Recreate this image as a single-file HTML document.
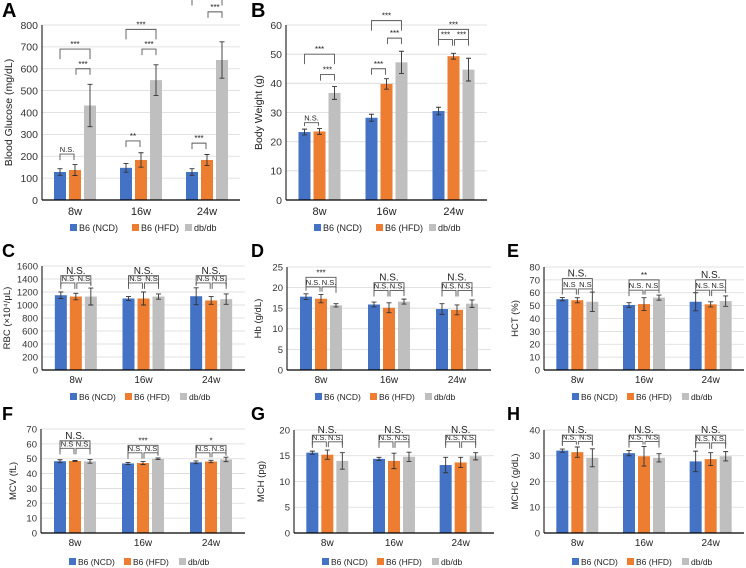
<!DOCTYPE html>
<html><head><meta charset="utf-8"><style>
body{margin:0;background:#fff;}
svg{display:block;font-family:"Liberation Sans",Arial,sans-serif;}
</style></head><body>
<svg id="fig" width="746" height="568" viewBox="0 0 746 568" xmlns="http://www.w3.org/2000/svg"></svg>
<script>
const categories=["8w","16w","24w"];
const seriesNames=["B6 (NCD)","B6 (HFD)","db/db"];
const colors=["#4472c4","#ed7d31","#bfbfbf"];

const aNCD=[128,147,128], aNCDerr=[15,20,15];
const aHFD=[137,183,183], aHFDerr=[25,33,25];
const aDB=[432,548,640], aDBerr=[97,70,83];
const bNCD=[23.3,28.2,30.5], bNCDerr=[1,1.2,1.3];
const bHFD=[23.5,39.8,49.3], bHFDerr=[1,1.8,1];
const bDB=[36.7,47.2,44.7], bDBerr=[2.2,3.8,3.9];
const cNCD=[1150,1100,1135], cNCDerr=[50,30,130];
const cHFD=[1130,1100,1070], cHFDerr=[50,100,60];
const cDB=[1130,1130,1090], cDBerr=[130,40,80];
const dNCD=[17.8,15.9,14.8], dNCDerr=[0.7,0.6,1.3];
const dHFD=[17.3,15.1,14.6], dHFDerr=[1,1.2,1.2];
const dDB=[15.7,16.6,16.1], dDBerr=[0.4,0.6,0.9];
const eNCD=[55,50.5,53], eNCDerr=[1.3,1.8,7];
const eHFD=[54.2,51.2,51], eHFDerr=[2,5,2];
const eDB=[53,56.2,53.5], eDBerr=[7.5,2,4];
const fNCD=[48.3,46.8,47.6], fNCDerr=[1,0.7,0.9];
const fHFD=[48.5,47.1,48.1], fHFDerr=[0.3,1,0.8];
const fDB=[48.2,50,49.5], fDBerr=[1.2,0.5,1.5];
const gNCD=[15.6,14.4,13.2], gNCDerr=[0.3,0.3,1.5];
const gHFD=[15.2,14,13.7], gHFDerr=[0.9,1.5,1];
const gDB=[14,14.8,14.9], gDBerr=[1.6,0.9,0.7];
const hNCD=[32,31,27.8], hNCDerr=[0.6,1,4];
const hHFD=[31.4,29.8,28.7], hHFDerr=[2,3.8,2.5];
const hDB=[29.2,29.2,29.8], hDBerr=[3.5,1.6,1.8];

// significance brackets: [category, fromSeries, toSeries, yValue, label]
const aSig=[[0,0,1,210,"N.S."],[0,1,2,600,"***"],[0,0,2,690,"***"],[1,0,1,270,"**"],[1,1,2,690,"***"],[1,0,2,780,"***"],[2,0,1,260,"***"],[2,1,2,860,"***"],[2,0,2,935,"***"]];
const bSig=[[0,0,1,26.5,"N.S."],[0,1,2,43,"***"],[0,0,2,50,"***"],[1,0,1,45,"***"],[1,1,2,55.5,"***"],[1,0,2,61.5,"***"],[2,0,1,55,"***"],[2,1,2,55,"***"],[2,0,2,58.5,"***"]];
const cSig=[[0,0,1,1340,"N.S"],[0,1,2,1340,"N.S"],[0,0,2,1450,"N.S."],[1,0,1,1340,"N.S"],[1,1,2,1340,"N.S"],[1,0,2,1450,"N.S."],[2,0,1,1340,"N.S"],[2,1,2,1340,"N.S."],[2,0,2,1450,"N.S."]];
const dSig=[[0,0,1,20.2,"N.S."],[0,1,2,20.2,"N.S."],[0,0,2,22.5,"***"],[1,0,1,19.3,"N.S."],[1,1,2,19.3,"N.S."],[1,0,2,21.2,"N.S."],[2,0,1,19.3,"N.S."],[2,1,2,19.3,"N.S."],[2,0,2,21.2,"N.S."]];
const eSig=[[0,0,1,63,"N.S"],[0,1,2,63,"N.S"],[0,0,2,71,"N.S."],[1,0,1,62,"N.S."],[1,1,2,62,"N.S"],[1,0,2,70,"**"],[2,0,1,62,"N.S."],[2,1,2,62,"N.S."],[2,0,2,70,"N.S."]];
const fSig=[[0,0,1,57,"N.S"],[0,1,2,57,"N.S."],[0,0,2,62,"N.S."],[1,0,1,54,"N.S."],[1,1,2,54,"N.S"],[1,0,2,59,"***"],[2,0,1,54,"N.S."],[2,1,2,54,"N.S."],[2,0,2,59,"*"]];
const gSig=[[0,0,1,17.7,"N.S."],[0,1,2,17.7,"N.S."],[0,0,2,19,"N.S."],[1,0,1,17.7,"N.S."],[1,1,2,17.7,"N.S."],[1,0,2,19,"N.S."],[2,0,1,17.7,"N.S."],[2,1,2,17.7,"N.S."],[2,0,2,19,"N.S."]];
const hSig=[[0,0,1,35.5,"N.S."],[0,1,2,35.5,"N.S"],[0,0,2,38,"N.S."],[1,0,1,35.5,"N.S."],[1,1,2,35.5,"N.S"],[1,0,2,38,"N.S."],[2,0,1,35,"N.S."],[2,1,2,35,"N.S."],[2,0,2,38,"N.S."]];

const svg=document.getElementById('fig');
const NS="http://www.w3.org/2000/svg";
function mk(tag,attrs,parent,text){const e=document.createElementNS(NS,tag);for(const k in attrs)e.setAttribute(k,attrs[k]);if(text!==undefined)e.textContent=text;(parent||svg).appendChild(e);return e;}

function panel(p){
  const g=mk('g',{});
  
  
  const big=p.big;
  const fs=big?10.5:9.5;
  const yS=v=>p.yb-(v/p.max)*(p.yb-p.yt);
  const gw=(p.x1-p.x0)/3;
  const xc=i=>p.x0+gw*(i+0.5);
  const off=[-15,0,15], bw=12;
  const L=mk('text',{x:p.lx,y:p.ly,'font-size':big?20:18,'font-weight':'bold',fill:'#000'},g,p.id);
  
  
  for(let v=0;v<=p.max+1e-9;v+=p.step){
    const y=yS(v);
    if(v>0){const gl=mk('line',{x1:p.x0,x2:p.x1,y1:y,y2:y,stroke:'#d9d9d9','stroke-width':0.8},g);
      }
    const t=mk('text',{x:p.x0-4,y:y+fs*0.36,'font-size':fs,'text-anchor':'end',fill:'#333'},g,String(Math.round(v*100)/100));
    
  }
  const ya=mk('line',{x1:p.x0,x2:p.x0,y1:p.yt,y2:p.yb,stroke:'#000','stroke-width':1},g);
  
  const yc=(p.yt+p.yb)/2;
  const yt=mk('text',{x:p.tx,y:yc,'font-size':fs,'text-anchor':'middle',fill:'#222',transform:`rotate(-90 ${p.tx} ${yc})`},g,p.title);
  
  const series=[p.s[0],p.s[2],p.s[4]], errs=[p.s[1],p.s[3],p.s[5]];
  for(let i=0;i<3;i++){
    for(let s=0;s<3;s++){
      const x=xc(i)+off[s]-bw/2, y=yS(series[s][i]);
      const r=mk('rect',{x:x,y:y,width:bw,height:p.yb-y,fill:colors[s]},g);
      
      
      const cx=xc(i)+off[s], e1=yS(series[s][i]+errs[s][i]), e2=yS(series[s][i]-errs[s][i]);
      const eb=mk('path',{d:`M${cx},${e1}V${e2}M${cx-2.5},${e1}H${cx+2.5}M${cx-2.5},${e2}H${cx+2.5}`,stroke:'#333','stroke-width':0.9,fill:'none'},g);
      
    }
    const cl=mk('text',{x:xc(i),y:p.yb+(big?15:13),'font-size':fs+0.5,'text-anchor':'middle',fill:'#222'},g,categories[i]);
    
  }
  p.sig.forEach(b=>{
    const [i,a,c,v,lab]=b;
    const xa=xc(i)+off[a]+(a===1&&c===2?1:0), xb=xc(i)+off[c]-(a===0&&c===1?1:0);
    const y=yS(v);
    const ya_=Math.min(yS(series[a][i]+errs[a][i])-3,y+ (c-a===2?10:6));
    const yb_=Math.min(yS(series[c][i]+errs[c][i])-3,y+ (c-a===2?10:6));
    const bp=mk('path',{d:`M${xa},${Math.max(ya_,y+3)}V${y}H${xb}V${Math.max(yb_,y+3)}`,stroke:'#555','stroke-width':0.9,fill:'none'},g);
    
    const isStar=lab.indexOf('*')>=0;
    const st=mk('text',{x:(xa+xb)/2,y:y-2,'font-size':isStar?8:(c-a===2?10:7.5),'text-anchor':'middle',fill:'#222'},g,lab);
    
  });
  const xa=mk('line',{x1:p.x0,x2:p.x1,y1:p.yb,y2:p.yb,stroke:'#000','stroke-width':1.2},g);
  
  const lo=big?[0,62,115]:[0,55,110];
  for(let s=0;s<3;s++){
    const lx=p.x0+28+lo[s];
    const sq=mk('rect',{x:lx,y:p.leg-7,width:7,height:7,fill:colors[s]},g);
    
    const lt=mk('text',{x:lx+9,y:p.leg,'font-size':big?9:8.5,fill:'#222'},g,seriesNames[s]);
    
  }
}
panel({id:'A',big:true,x0:42,x1:240,yt:25,yb:200,max:800,step:100,s:[aNCD,aNCDerr,aHFD,aHFDerr,aDB,aDBerr],sig:aSig,title:'Blood Glucose (mg/dL)',tx:12,lx:2,ly:17,leg:231});
panel({id:'B',big:true,x0:286,x1:487,yt:25,yb:200,max:60,step:10,s:[bNCD,bNCDerr,bHFD,bHFDerr,bDB,bDBerr],sig:bSig,title:'Body Weight (g)',tx:262,lx:251,ly:17,leg:231});
panel({id:'C',x0:42,x1:245,yt:266,yb:370,max:1600,step:200,s:[cNCD,cNCDerr,cHFD,cHFDerr,cDB,cDBerr],sig:cSig,title:'RBC (×10⁴/μL)',tx:10,lx:2,ly:257,leg:400});
panel({id:'D',x0:287,x1:491,yt:267,yb:370,max:25,step:5,s:[dNCD,dNCDerr,dHFD,dHFDerr,dDB,dDBerr],sig:dSig,title:'Hb (g/dL)',tx:261,lx:251,ly:257,leg:400});
panel({id:'E',x0:544,x1:744,yt:267,yb:370,max:80,step:10,s:[eNCD,eNCDerr,eHFD,eHFDerr,eDB,eDBerr],sig:eSig,title:'HCT (%)',tx:518,lx:507,ly:257,leg:400});
panel({id:'F',x0:41,x1:245,yt:429,yb:533,max:70,step:10,s:[fNCD,fNCDerr,fHFD,fHFDerr,fDB,fDBerr],sig:fSig,title:'MCV (fL)',tx:16,lx:2,ly:420,leg:565});
panel({id:'G',x0:294,x1:494,yt:430,yb:533,max:20,step:5,s:[gNCD,gNCDerr,gHFD,gHFDerr,gDB,gDBerr],sig:gSig,title:'MCH (pg)',tx:264,lx:251,ly:420,leg:565});
panel({id:'H',x0:544,x1:744,yt:430,yb:533,max:40,step:10,s:[hNCD,hNCDerr,hHFD,hHFDerr,hDB,hDBerr],sig:hSig,title:'MCHC (g/dL)',tx:518,lx:507,ly:420,leg:565});
</script>
</body></html>
